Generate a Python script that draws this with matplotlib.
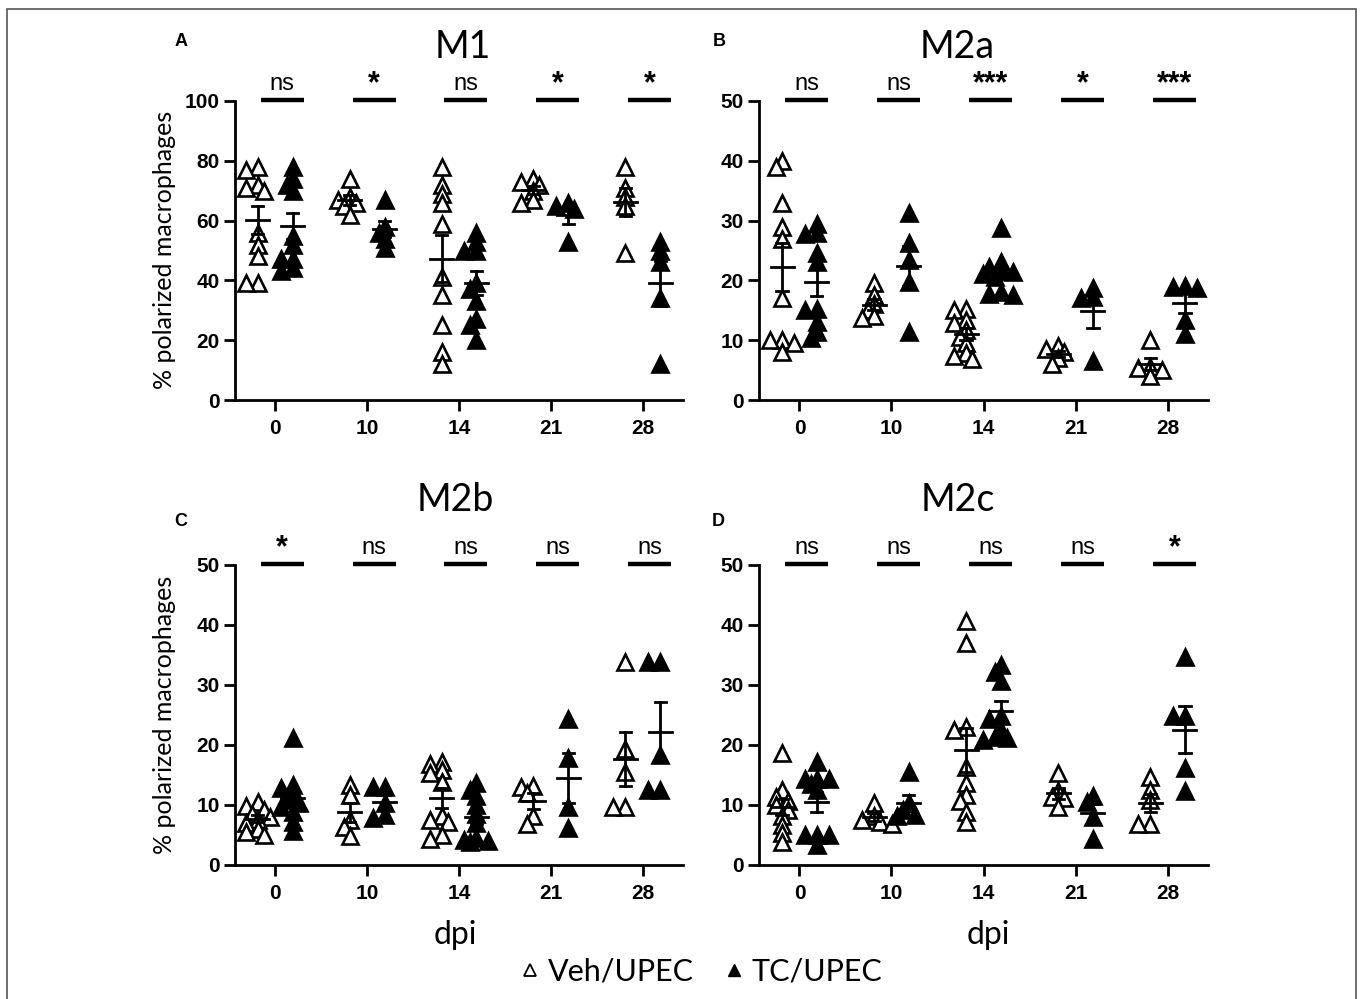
import numpy as np
import matplotlib
matplotlib.use('Agg')
import matplotlib.pyplot as plt
from matplotlib.lines import Line2D
from matplotlib.patches import Rectangle

days = ['0', '10', '14', '21', '28']

# % polarized macrophages, one list per dpi
m1_veh = [[78, 77, 72, 71, 70, 56, 52, 48, 39, 39],
          [74, 68, 67, 66, 65, 62],
          [78, 72, 69, 66, 59, 41, 35, 25, 16, 12],
          [74, 73, 72, 70, 67, 66],
          [78, 71, 68, 65, 49]]
m1_tc = [[78, 74, 72, 70, 55, 52, 47, 47, 44, 43],
         [67, 58, 56, 54, 51],
         [56, 53, 50, 50, 39, 37, 33, 27, 25, 20],
         [66, 65, 64, 53],
         [53, 50, 46, 34, 12]]
m2a_veh = [[40, 39, 33, 29, 27, 17, 10, 10, 9.5, 8],
           [19.5, 17.5, 16, 15, 14, 13.7],
           [15.3, 15, 13.4, 12.8, 11.7, 10.6, 9.5, 7.9, 7.3, 6.8],
           [9, 8.5, 8, 7, 6],
           [10, 5.6, 5.3, 5, 4]]
m2a_tc = [[29.5, 28, 27.8, 24.5, 23, 15.3, 15, 13, 11.4, 10.3],
          [31.2, 26.2, 23.4, 19.8, 11.4],
          [28.7, 23.1, 22.3, 21.7, 21.4, 21.1, 20.6, 18.1, 17.8, 17.5],
          [18.7, 17.3, 17, 6.5],
          [19, 18.9, 18.7, 13.4, 11.1]]
m2b_veh = [[10.5, 9.8, 9.2, 8.5, 8, 7.5, 7, 6, 5.5, 5],
           [13.4, 11.7, 7.5, 6.4, 4.8],
           [17.2, 16.9, 15.8, 15.3, 13.9, 8.1, 7.5, 7.2, 5, 4.4],
           [13.1, 13, 12, 8.1, 6.9],
           [33.9, 19.4, 15.5, 9.7, 9.7]]
m2b_tc = [[21.2, 13.4, 12.8, 12, 10.8, 10.3, 9.7, 8.9, 7.2, 5.6],
          [13, 13, 10.3, 8.4, 7.8],
          [13.6, 12.5, 11.5, 10, 8.5, 7, 4.5, 4.2, 4, 3.8],
          [24.4, 17.8, 9.7, 6.1],
          [33.9, 33.9, 18.3, 12.5, 12.5]]
m2c_veh = [[18.6, 12.5, 11.4, 10.6, 10, 9.2, 8.1, 6.7, 5.3, 3.9],
           [10.3, 8.1, 7.5, 7.2, 6.9],
           [40.6, 37, 23, 22.5, 16.4, 13.6, 11.7, 10.6, 8.9, 7.2],
           [15.3, 12.3, 11.4, 11.1, 9.7],
           [14.7, 12.5, 10.8, 6.9, 6.9]]
m2c_tc = [[17.2, 14.4, 14.4, 14.4, 13.5, 12.5, 5, 5, 5, 3.3],
          [15.5, 10.3, 9.2, 8.4, 8.1],
          [33.3, 32.2, 30.6, 24.8, 24.4, 22.5, 21.4, 21.2, 20.8],
          [11.5, 10.5, 8, 4.4],
          [34.7, 24.8, 24.8, 16.2, 12.3]]

m1_sig = ['ns', '*', 'ns', '*', '*']
m2a_sig = ['ns', 'ns', '***', '*', '***']
m2b_sig = ['*', 'ns', 'ns', 'ns', 'ns']
m2c_sig = ['ns', 'ns', 'ns', 'ns', '*']

TXT = 'Lato'
TICK = 'Liberation Sans'

fig = plt.figure(figsize=(13.6, 9.99), dpi=100)

W, H = 1360, 999
def box(l, r, t, b):
    return [l / W, 1 - b / H, (r - l) / W, (b - t) / H]

panels = [
    ('A', 'M1', m1_veh, m1_tc, m1_sig, 100, 20, box(235, 683, 101, 400)),
    ('B', 'M2a', m2a_veh, m2a_tc, m2a_sig, 50, 10, box(759, 1208, 101, 400)),
    ('C', 'M2b', m2b_veh, m2b_tc, m2b_sig, 50, 10, box(235, 683, 565, 865)),
    ('D', 'M2c', m2c_veh, m2c_tc, m2c_sig, 50, 10, box(759, 1208, 565, 865)),
]

PX_X = 92.0  # pixels per category


def swarm(vals, px_y, step=6.0, dmin=8.0):
    # simple deterministic beeswarm, offsets in pixels
    placed = []
    offs = []
    for v in vals:
        y = v * px_y
        cands = [0.0]
        for i in range(1, 4):
            cands += [-i * step, i * step]
        best, bestd = 0.0, -1
        for c in cands:
            d = min([((c - px) ** 2 + (y - py) ** 2) ** 0.5 for px, py in placed] or [99])
            if d >= dmin:
                best = c
                break
            if d > bestd:
                best, bestd = c, d
        placed.append((best, y))
        offs.append(best / PX_X)
    return np.array(offs)


for letter, title, veh, tc, sig, ymax, ystep, pos in panels:
    ax = fig.add_axes(pos)
    px_y = 299.0 / ymax
    for i in range(len(days)):
        for grp, shift, face in [(veh[i], -0.19, 'white'), (tc[i], 0.19, 'black')]:
            vals = np.array(grp, dtype=float)
            xs = i + shift + swarm(vals, px_y)
            ax.plot(xs, vals, linestyle='none', marker='^', markersize=11,
                    markerfacecolor=face, markeredgecolor='black',
                    markeredgewidth=1.9, zorder=3, clip_on=False)
            m = vals.mean()
            sem = vals.std(ddof=1) / np.sqrt(len(vals))
            c = i + shift
            ax.plot([c - 0.125, c + 0.125], [m, m], color='black', lw=2.0, zorder=4)
            ax.plot([c, c], [m - sem, m + sem], color='black', lw=2.0, zorder=4)
            ax.plot([c - 0.06, c + 0.06], [m + sem, m + sem], color='black', lw=2.0, zorder=4)
            ax.plot([c - 0.06, c + 0.06], [m - sem, m - sem], color='black', lw=2.0, zorder=4)
        # significance bar
        ax.plot([i - 0.16, i + 0.31], [ymax * 1.005, ymax * 1.005], color='black',
                lw=3.2, clip_on=False, solid_capstyle='butt')
        is_star = '*' in sig[i]
        ax.annotate(sig[i], (i + 0.075, ymax * 1.005), xytext=(0, 3 if not is_star else 0),
                    textcoords='offset points', ha='center', va='bottom',
                    fontsize=17 if not is_star else 22, family=TICK,
                    fontweight='bold' if is_star else 'normal', annotation_clip=False)

    ax.set_xlim(-0.44, 4.44)
    ax.set_ylim(0, ymax)
    ax.set_xticks(range(len(days)))
    ax.set_xticklabels(days)
    ax.set_yticks(np.arange(0, ymax + 1, ystep))
    for s in ['top', 'right']:
        ax.spines[s].set_visible(False)
    for s in ['left', 'bottom']:
        ax.spines[s].set_linewidth(2.0)
    ax.tick_params(axis='both', width=2.0, length=8, labelsize=15, pad=3)
    ax.tick_params(axis='x', pad=6)
    for lab in ax.get_xticklabels() + ax.get_yticklabels():
        lab.set_fontfamily(TICK)
        lab.set_fontweight('bold')

# titles, panel letters, labels
fig.text(463 / W, 1 - 47 / H, 'M1', fontsize=27, family=TXT, ha='center', va='center')
fig.text(957 / W, 1 - 47 / H, 'M2a', fontsize=27, family=TXT, ha='center', va='center')
fig.text(455 / W, 1 - 500 / H, 'M2b', fontsize=27, family=TXT, ha='center', va='center')
fig.text(958 / W, 1 - 500 / H, 'M2c', fontsize=27, family=TXT, ha='center', va='center')
for lt, x, y in [('A', 181, 42), ('B', 719, 42), ('C', 181, 522), ('D', 718, 522)]:
    fig.text(x / W, 1 - y / H, lt, fontsize=13, fontweight='bold', family=TICK,
             ha='center', va='center')
for y in [250, 715]:
    fig.text(165 / W, 1 - y / H, '% polarized macrophages', fontsize=18, family=TXT,
             rotation=90, ha='center', va='center')
fig.text(455 / W, 1 - 935 / H, 'dpi', fontsize=23, family=TXT, ha='center', va='center')
fig.text(988 / W, 1 - 935 / H, 'dpi', fontsize=23, family=TXT, ha='center', va='center')

handles = [Line2D([], [], linestyle='none', marker='^', markersize=8, markerfacecolor='white',
                  markeredgecolor='black', markeredgewidth=1.3, label='Veh/UPEC'),
           Line2D([], [], linestyle='none', marker='^', markersize=9, markerfacecolor='black',
                  markeredgecolor='black', label='TC/UPEC')]
fig.legend(handles=handles, loc='center', bbox_to_anchor=(700 / W, 1 - 972 / H), ncol=2,
           frameon=False, prop={'family': TXT, 'size': 22}, handlelength=0.8,
           handletextpad=0.2, columnspacing=0.9)

fig.patches.append(Rectangle((7 / W, -0.02), (1356 - 7) / W, 1 - 9 / H + 0.02,
                             transform=fig.transFigure, fill=False, edgecolor='#555555',
                             lw=1.2))

fig.savefig('out.png', dpi=100)
